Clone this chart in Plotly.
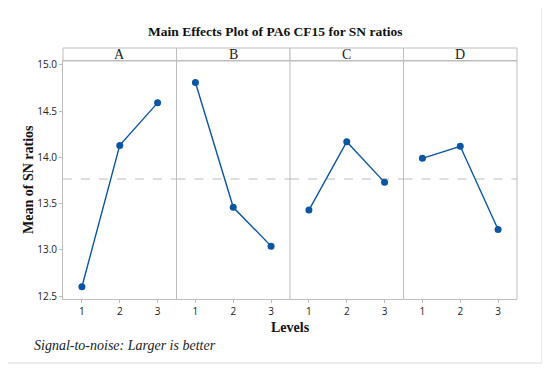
import plotly.graph_objects as go

factors = ["A", "B", "C", "D"]
levels = [1, 2, 3]
sn_means = {
    "A": [12.60, 14.13, 14.59],
    "B": [14.81, 13.46, 13.04],
    "C": [13.43, 14.17, 13.73],
    "D": [13.99, 14.12, 13.22],
}
overall_mean = 13.766
y_ticks = [12.5, 13.0, 13.5, 14.0, 14.5, 15.0]

# the page body adds an 8px offset; work in reference pixel coords minus that
OFF = 8
W, H = 550 - OFF, 370 - OFF
L, T = 63 - OFF, 61 - OFF
pw, ph = 454, 238
R = W - L - pw
B = H - T - ph

def px(x):
    return (x - OFF - L) / pw

def py(y):
    return (T + ph - (y - OFF)) / ph

blue = "#0b55a3"
grid = "#bdbdbd"
tickfont = dict(family="Open Sans, Noto Sans, sans-serif", size=10, color="#222")
serif = "Liberation Serif, Times New Roman, serif"
strip_h = 13 / ph

fig = go.Figure()
n = len(factors)
for i, f in enumerate(factors):
    xa = "x" if i == 0 else f"x{i+1}"
    fig.add_trace(go.Scatter(
        x=[0.5, 3.5], y=[overall_mean, overall_mean], xaxis=xa, yaxis="y",
        mode="lines", line=dict(color="#bcbcbc", width=1, dash="dash"),
        showlegend=False, hoverinfo="skip",
    ))
    fig.add_trace(go.Scatter(
        x=levels, y=sn_means[f], xaxis=xa, yaxis="y",
        mode="lines+markers",
        line=dict(color=blue, width=1.4),
        marker=dict(color=blue, size=7),
        showlegend=False, hoverinfo="x+y",
    ))
    dom = [i / n, (i + 1) / n]
    axkey = "xaxis" if i == 0 else f"xaxis{i+1}"
    fig.layout[axkey] = dict(
        domain=dom, range=[0.5, 3.5], tickvals=levels, ticktext=[str(v) for v in levels],
        showgrid=False, zeroline=False, showline=True, linecolor=grid, linewidth=1,
        mirror=True, ticks="outside", ticklen=3, tickcolor=grid,
        tickfont=tickfont, anchor="y", fixedrange=True,
    )
    fig.add_shape(type="rect", xref="paper", yref="paper",
                  x0=dom[0], x1=dom[1], y0=1, y1=1 + strip_h,
                  line=dict(color=grid, width=1), fillcolor="white", layer="below")
    fig.add_shape(type="line", xref="paper", yref="paper",
                  x0=dom[1], x1=dom[1], y0=0, y1=1,
                  line=dict(color=grid, width=1), layer="below")
    fig.add_annotation(text=f, xref="paper", yref="paper", x=(dom[0] + dom[1]) / 2,
                       y=1 + strip_h / 2, showarrow=False, xanchor="center", yanchor="middle",
                       font=dict(family=serif, size=14, color="#222"))

fig.update_layout(
    width=W, height=H,
    margin=dict(l=L, r=R, t=T, b=B, autoexpand=False),
    paper_bgcolor="white", plot_bgcolor="white",
    yaxis=dict(
        range=[12.468, 15.043], tickvals=y_ticks, ticktext=[f"{v:.1f}" for v in y_ticks],
        showgrid=False, zeroline=False, showline=True, linecolor=grid, linewidth=1,
        ticks="outside", ticklen=3, tickcolor=grid, tickfont=tickfont, fixedrange=True,
    ),
    showlegend=False,
)

fig.add_shape(type="rect", xref="paper", yref="paper",
              x0=px(7), x1=px(542), y0=py(363), y1=py(6),
              line=dict(color="#dadada", width=1), layer="below")

fig.add_annotation(text="<b>Main Effects Plot of PA6 CF15 for SN ratios</b>",
                   xref="paper", yref="paper", x=px(275), y=py(32), showarrow=False,
                   xanchor="center", yanchor="middle",
                   font=dict(family=serif, size=13.5, color="#111"))
fig.add_annotation(text="<b>Mean of SN ratios</b>", xref="paper", yref="paper",
                   x=px(28), y=0.5, textangle=-90, showarrow=False,
                   xanchor="center", yanchor="middle",
                   font=dict(family=serif, size=14, color="#111"))
fig.add_annotation(text="<b>Levels</b>", xref="paper", yref="paper",
                   x=0.5, y=py(327), showarrow=False, xanchor="center", yanchor="middle",
                   font=dict(family=serif, size=14, color="#111"))
fig.add_annotation(text="<i>Signal-to-noise: Larger is better</i>", xref="paper", yref="paper",
                   x=px(32), y=py(345), xanchor="left", yanchor="middle", showarrow=False,
                   font=dict(family=serif, size=14, color="#222"))

fig.write_html("out.html")
